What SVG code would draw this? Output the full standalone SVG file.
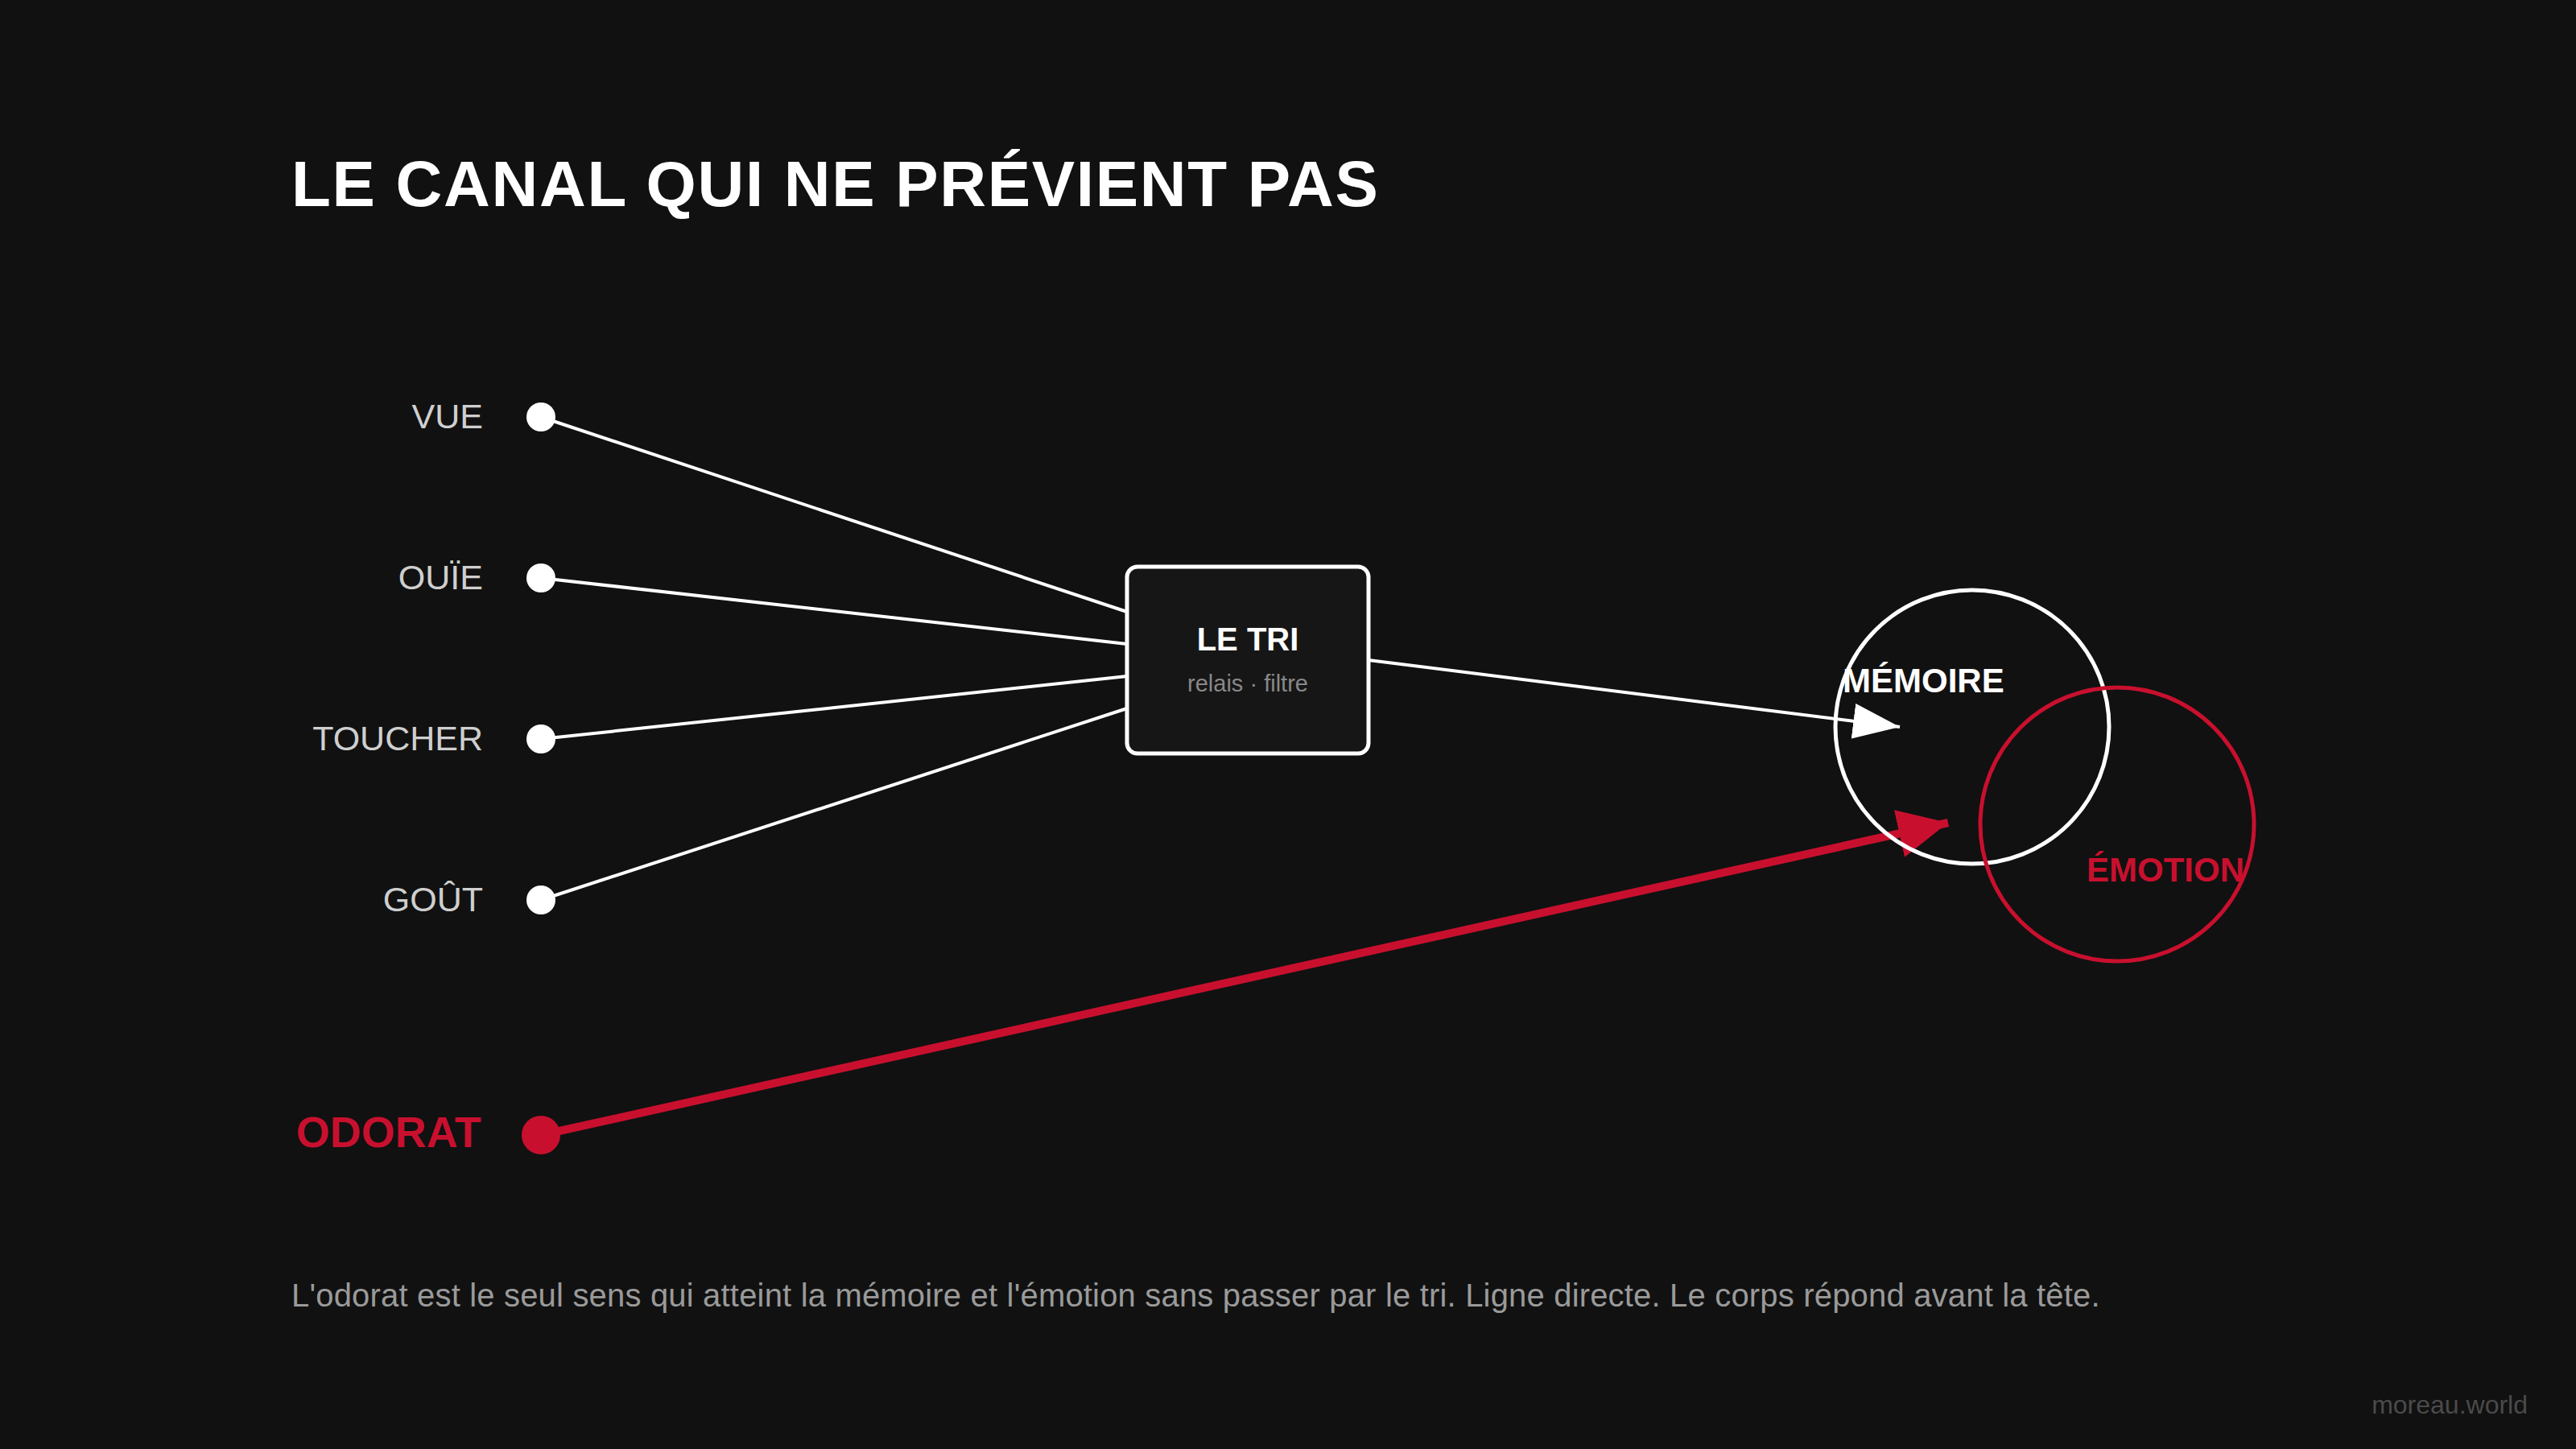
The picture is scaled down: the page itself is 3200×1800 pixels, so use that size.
<svg xmlns="http://www.w3.org/2000/svg" width="3200" height="1800" viewBox="0 0 3200 1800">
<defs>
<style>
.t{font-family:"Liberation Sans",Arial,Helvetica,sans-serif}
.title{font-size:80px;font-weight:bold;fill:#ffffff;letter-spacing:1.7px}
.sense{font-size:43px;fill:#cfcfcf;text-anchor:end}
.odorat{font-size:54px;font-weight:bold;fill:#c8102e;text-anchor:end}
.wl{stroke:#ffffff;stroke-width:4;fill:none}
.rl{stroke:#c8102e;stroke-width:10;fill:none}
.dot{fill:#ffffff}
.circ{fill:none;stroke-width:5}
.caption{font-size:40px;fill:#9a9a9a;letter-spacing:0.18px}
.mark{font-size:32px;fill:#4a4a4a;text-anchor:end}
</style>
<marker id="aw" markerUnits="userSpaceOnUse" markerWidth="60" markerHeight="44" refX="58" refY="22" orient="auto">
<path d="M0,0 L58,22 L0,44 Z" fill="#ffffff"/>
</marker>
<marker id="ar" markerUnits="userSpaceOnUse" markerWidth="64" markerHeight="60" refX="62" refY="30" orient="auto">
<path d="M0,0 L62,30 L0,60 Z" fill="#c8102e"/>
</marker>
</defs>
<rect x="0" y="0" width="3200" height="1800" fill="#111111"/>
<text class="t title" x="362" y="256">LE CANAL QUI NE PRÉVIENT PAS</text>

<g id="connectors">
<line class="wl" x1="672" y1="518" x2="1400" y2="760"/>
<line class="wl" x1="672" y1="718" x2="1400" y2="800"/>
<line class="wl" x1="672" y1="918" x2="1400" y2="840"/>
<line class="wl" x1="672" y1="1118" x2="1400" y2="880"/>
<line class="wl" x1="1700" y1="820" x2="2360" y2="903" marker-end="url(#aw)"/>
<line class="rl" x1="672" y1="1410" x2="2420" y2="1022" marker-end="url(#ar)"/>
</g>

<g id="vue">
<text class="t sense" x="600" y="532">VUE</text>
<circle class="dot" cx="672" cy="518" r="18"/>
</g>
<g id="ouie">
<text class="t sense" x="600" y="732">OUÏE</text>
<circle class="dot" cx="672" cy="718" r="18"/>
</g>
<g id="toucher">
<text class="t sense" x="600" y="932">TOUCHER</text>
<circle class="dot" cx="672" cy="918" r="18"/>
</g>
<g id="gout">
<text class="t sense" x="600" y="1132">GOÛT</text>
<circle class="dot" cx="672" cy="1118" r="18"/>
</g>
<g id="odorat">
<text class="t odorat" x="598" y="1425">ODORAT</text>
<circle cx="672" cy="1410" r="24" fill="#c8102e"/>
</g>

<g id="le-tri">
<rect x="1400" y="704" width="300" height="232" rx="13" fill="#161616" stroke="#ffffff" stroke-width="5"/>
<text class="t" x="1550" y="808" font-size="40" font-weight="bold" fill="#ffffff" text-anchor="middle">LE TRI</text>
<text class="t" x="1550" y="859" font-size="29" fill="#888888" text-anchor="middle">relais · filtre</text>
</g>

<g id="memoire">
<circle class="circ" cx="2450" cy="903" r="170" stroke="#ffffff"/>
<text class="t" x="2289" y="860" font-size="42" font-weight="bold" fill="#ffffff">MÉMOIRE</text>
</g>
<g id="emotion">
<circle class="circ" cx="2630" cy="1024" r="170" stroke="#c8102e"/>
<text class="t" x="2592" y="1095" font-size="42" font-weight="bold" fill="#c8102e">ÉMOTION</text>
</g>

<text class="t caption" x="362" y="1623">L'odorat est le seul sens qui atteint la mémoire et l'émotion sans passer par le tri. Ligne directe. Le corps répond avant la tête.</text>
<text class="t mark" x="3140" y="1756">moreau.world</text>
</svg>
